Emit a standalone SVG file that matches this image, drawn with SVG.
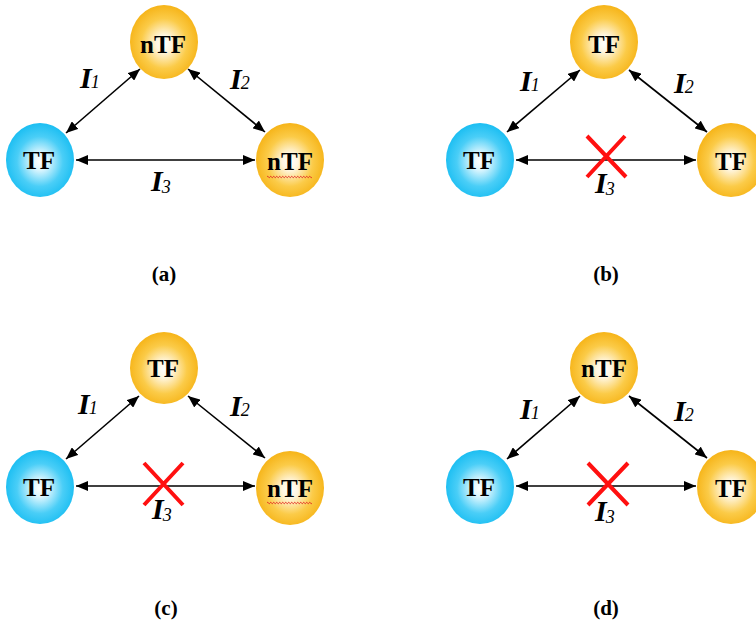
<svg xmlns="http://www.w3.org/2000/svg" width="756" height="628" viewBox="0 0 756 628">
<style>
.node-y{fill:url(#gy);}
.node-b{fill:url(#gb);}
text{font-family:'Liberation Serif','Times New Roman',Times,serif;}
.nt{font-weight:bold;font-size:25px;text-anchor:middle;fill:#000;}
.edge{stroke:#000;stroke-width:1.6;fill:none;marker-start:url(#ah);marker-end:url(#ah);}
.lbl{font-weight:bold;font-style:italic;font-size:30px;fill:#000;}
.sub{font-size:18px;font-weight:normal;font-style:italic;}
.cap{font-weight:bold;font-size:21px;text-anchor:middle;fill:#000;}
.cross{stroke:#FF1010;stroke-width:4;fill:none;}
.sq{stroke:#E02020;stroke-width:0.9;fill:none;}
</style>
<defs>
<radialGradient id="gy" cx="50%" cy="52%" r="52%">
<stop offset="0" stop-color="#FFFFFF"/>
<stop offset="0.22" stop-color="#FFF6E0"/>
<stop offset="0.65" stop-color="#FBCB48"/>
<stop offset="1" stop-color="#F6B418"/>
</radialGradient>
<radialGradient id="gb" cx="50%" cy="52%" r="52%">
<stop offset="0" stop-color="#FFFFFF"/>
<stop offset="0.22" stop-color="#DDF6FE"/>
<stop offset="0.65" stop-color="#4ACEF7"/>
<stop offset="1" stop-color="#1BBEF2"/>
</radialGradient>
<marker id="ah" viewBox="0 0 12 10" refX="12" refY="5" markerWidth="12" markerHeight="10" markerUnits="userSpaceOnUse" orient="auto-start-reverse">
<path d="M0,0 L12,5 L0,10 Z" fill="#000"/>
</marker>
</defs>

<g id="connectors">
<line class="edge" x1="66" y1="133" x2="140" y2="69"/>
<line class="edge" x1="188" y1="69" x2="265" y2="132"/>
<line class="edge" x1="76" y1="160" x2="255" y2="160"/>

<line class="edge" x1="507" y1="132" x2="580" y2="70"/>
<line class="edge" x1="629" y1="70" x2="707" y2="132"/>
<line class="edge" x1="516" y1="160" x2="696" y2="160"/>

<line class="edge" x1="66" y1="459" x2="139" y2="396"/>
<line class="edge" x1="188" y1="396" x2="265" y2="458"/>
<line class="edge" x1="76" y1="486" x2="255" y2="486"/>

<line class="edge" x1="507" y1="459" x2="580" y2="396"/>
<line class="edge" x1="629" y1="396" x2="707" y2="458"/>
<line class="edge" x1="516" y1="486" x2="696" y2="486"/>
</g>

<g id="crosses">
<path class="cross" d="M587,136 L626,177 M625,136 L587,177"/>
<path class="cross" d="M144,463 L183,505 M183,463 L144,505"/>
<path class="cross" d="M588,463 L628,505 M628,463 L588,505"/>
</g>

<g id="a-top"><ellipse class="node-y" cx="164" cy="42" rx="34" ry="37"/><text class="nt" x="163" y="53">nTF</text></g>
<g id="a-left"><ellipse class="node-b" cx="40" cy="160" rx="34" ry="37"/><text class="nt" x="39" y="169">TF</text></g>
<g id="a-right"><ellipse class="node-y" cx="290" cy="160" rx="34" ry="37"/><text class="nt" x="290" y="170">nTF</text>
<path class="sq" d="M267,177 q0.75,-1.4 1.5,0 t1.5,0 t1.5,0 t1.5,0 t1.5,0 t1.5,0 t1.5,0 t1.5,0 t1.5,0 t1.5,0 t1.5,0 t1.5,0 t1.5,0 t1.5,0 t1.5,0 t1.5,0 t1.5,0 t1.5,0 t1.5,0 t1.5,0 t1.5,0 t1.5,0 t1.5,0 t1.5,0 t1.5,0 t1.5,0 t1.5,0 t1.5,0 t1.5,0 t1.5,0"/></g>

<g id="b-top"><ellipse class="node-y" cx="604" cy="42" rx="34" ry="37"/><text class="nt" x="604" y="53">TF</text></g>
<g id="b-left"><ellipse class="node-b" cx="480" cy="160" rx="34" ry="37"/><text class="nt" x="479" y="169">TF</text></g>
<g id="b-right"><ellipse class="node-y" cx="731" cy="160" rx="34" ry="37"/><text class="nt" x="731" y="170">TF</text></g>

<g id="c-top"><ellipse class="node-y" cx="164" cy="368" rx="34" ry="36"/><text class="nt" x="163" y="377">TF</text></g>
<g id="c-left"><ellipse class="node-b" cx="40" cy="487" rx="34" ry="37"/><text class="nt" x="39" y="496">TF</text></g>
<g id="c-right"><ellipse class="node-y" cx="290" cy="488" rx="34" ry="37"/><text class="nt" x="290" y="497">nTF</text>
<path class="sq" d="M267,503 q0.75,-1.4 1.5,0 t1.5,0 t1.5,0 t1.5,0 t1.5,0 t1.5,0 t1.5,0 t1.5,0 t1.5,0 t1.5,0 t1.5,0 t1.5,0 t1.5,0 t1.5,0 t1.5,0 t1.5,0 t1.5,0 t1.5,0 t1.5,0 t1.5,0 t1.5,0 t1.5,0 t1.5,0 t1.5,0 t1.5,0 t1.5,0 t1.5,0 t1.5,0 t1.5,0 t1.5,0"/></g>

<g id="d-top"><ellipse class="node-y" cx="604" cy="368" rx="34" ry="36"/><text class="nt" x="604" y="377">nTF</text></g>
<g id="d-left"><ellipse class="node-b" cx="480" cy="487" rx="34" ry="37"/><text class="nt" x="479" y="496">TF</text></g>
<g id="d-right"><ellipse class="node-y" cx="731" cy="487" rx="34" ry="37"/><text class="nt" x="731" y="497">TF</text></g>

<g id="labels">
<text class="lbl" x="80" y="88">I<tspan class="sub" dx="-1">1</tspan></text>
<text class="lbl" x="230" y="89">I<tspan class="sub" dx="-1">2</tspan></text>
<text class="lbl" x="151" y="191">I<tspan class="sub" dx="-1" dy="2">3</tspan></text>

<text class="lbl" x="520" y="91">I<tspan class="sub" dx="-1">1</tspan></text>
<text class="lbl" x="674" y="93">I<tspan class="sub" dx="-1">2</tspan></text>
<text class="lbl" x="595" y="193">I<tspan class="sub" dx="-1" dy="2">3</tspan></text>

<text class="lbl" x="78" y="414">I<tspan class="sub" dx="-1">1</tspan></text>
<text class="lbl" x="230" y="416">I<tspan class="sub" dx="-1">2</tspan></text>
<text class="lbl" x="152" y="519">I<tspan class="sub" dx="-1" dy="2">3</tspan></text>

<text class="lbl" x="520" y="419">I<tspan class="sub" dx="-1">1</tspan></text>
<text class="lbl" x="674" y="421">I<tspan class="sub" dx="-1">2</tspan></text>
<text class="lbl" x="595" y="521">I<tspan class="sub" dx="-1" dy="2">3</tspan></text>

<text class="cap" x="164" y="281">(a)</text>
<text class="cap" x="606" y="281">(b)</text>
<text class="cap" x="166" y="615">(c)</text>
<text class="cap" x="606" y="615">(d)</text>
</g>
</svg>
